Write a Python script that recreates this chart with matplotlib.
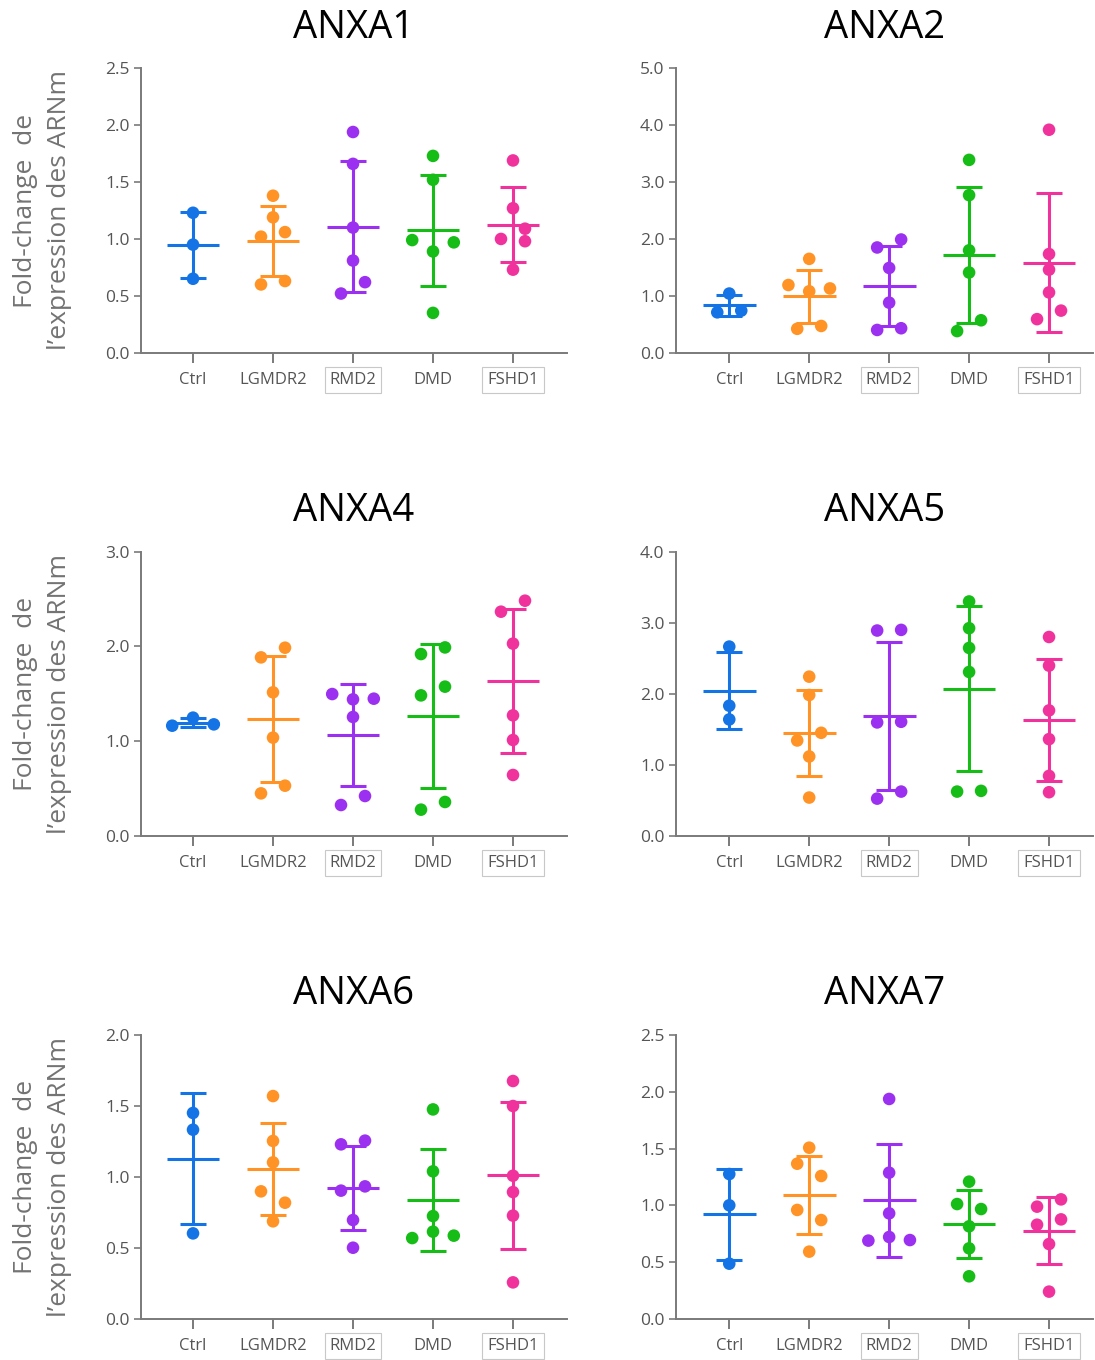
"""ANXA1-7 fold-change scatter panels (mean +/- SD) across myopathy groups."""
import numpy as np
import matplotlib
matplotlib.use("Agg")
import matplotlib.pyplot as plt

plt.rcParams["font.family"] = ["Open Sans", "DejaVu Sans"]

GROUPS = ["Ctrl", "LGMDR2", "RMD2", "DMD", "FSHD1"]
COLORS = ["#1474e6", "#ff9326", "#9b30f0", "#16bd16", "#f0339c"]
BOXED = ["RMD2", "FSHD1"]

# fold-change values, one list per group
ANXA1 = [[1.23, 0.95, 0.65],
         [1.38, 1.19, 1.02, 1.06, 0.60, 0.63],
         [1.94, 1.66, 1.10, 0.81, 0.52, 0.62],
         [1.73, 1.52, 0.89, 0.99, 0.97, 0.35],
         [1.69, 1.27, 1.09, 1.00, 0.98, 0.73]]
ANXA2 = [[1.04, 0.71, 0.74],
         [1.65, 1.08, 1.19, 1.13, 0.42, 0.47],
         [1.85, 1.99, 1.49, 0.88, 0.40, 0.43],
         [3.39, 2.77, 1.80, 1.41, 0.38, 0.57],
         [3.92, 1.735, 1.46, 1.06, 0.59, 0.74]]
ANXA4 = [[1.249, 1.164, 1.178],
         [1.885, 1.987, 1.516, 1.038, 0.45, 0.531],
         [1.442, 1.498, 1.449, 1.256, 0.327, 0.422],
         [1.92, 1.99, 1.484, 1.576, 0.278, 0.359],
         [2.367, 2.483, 2.03, 1.273, 1.013, 0.644]]
ANXA5 = [[2.665, 1.833, 1.640],
         [2.242, 1.984, 1.344, 1.452, 1.119, 0.541],
         [2.891, 2.90, 1.598, 1.607, 0.526, 0.625],
         [3.30, 2.924, 2.646, 2.308, 0.625, 0.635],
         [2.80, 2.397, 1.767, 1.363, 0.846, 0.616]]
ANXA6 = [[1.451, 1.333, 0.603],
         [1.570, 1.254, 1.103, 0.899, 0.819, 0.688],
         [1.230, 1.256, 0.904, 0.934, 0.697, 0.502],
         [1.476, 1.040, 0.725, 0.615, 0.570, 0.587],
         [1.676, 1.50, 1.009, 0.894, 0.728, 0.258]]
ANXA7 = [[1.276, 1.001, 0.487],
         [1.508, 1.367, 1.259, 0.96, 0.871, 0.593],
         [1.937, 1.288, 0.930, 0.722, 0.690, 0.695],
         [1.209, 1.012, 0.968, 0.816, 0.622, 0.376],
         [0.989, 1.053, 0.830, 0.877, 0.660, 0.241]]

GENES = ["ANXA1", "ANXA2", "ANXA4", "ANXA5", "ANXA6", "ANXA7"]
DATA = [ANXA1, ANXA2, ANXA4, ANXA5, ANXA6, ANXA7]
YMAX = [2.5, 5.0, 3.0, 4.0, 2.0, 2.5]
YSTEP = [0.5, 1.0, 1.0, 1.0, 0.5, 0.5]

TICK_GREY = "#555555"
SPINE_GREY = "#7a7a7a"


def swarm_offsets(vals, ymax, thr=0.044, pair_step=0.30, row_step=0.26):
    """Spread points sideways when they sit too close vertically."""
    vals = np.asarray(vals, dtype=float)
    order = np.argsort(vals)
    clusters = [[order[0]]]
    for i in order[1:]:
        if (vals[i] - vals[clusters[-1][-1]]) / ymax < thr:
            clusters[-1].append(i)
        else:
            clusters.append([i])
    off = np.zeros(len(vals))
    for c in clusters:
        n = len(c)
        span = (vals[c[-1]] - vals[c[0]]) / ymax
        if n == 3 and span >= 0.042:
            # outer points clear each other: two columns, middle one alone
            off[c[1]] = -0.5 * pair_step
            off[c[0]] = off[c[2]] = 0.5 * pair_step
            continue
        c = sorted(c)
        if n % 2:
            slots = [0] + [s * k for k in range(1, n // 2 + 1) for s in (-1, 1)]
            step = row_step
        else:
            slots = [s * (k - 0.5) for k in range(1, n // 2 + 1) for s in (-1, 1)]
            step = pair_step
        for idx, sl in zip(c, slots):
            off[idx] = sl * step
    return off


fig = plt.figure(figsize=(10.95, 13.6), dpi=100)

# axes boxes in figure pixels: (left, right) and (top, bottom)
col_x = [(140.7, 567.0), (675.7, 1093.0)]
row_y = [(68.3, 352.7), (551.7, 836.0), (1035.0, 1319.0)]
xlims = [(-0.654, 4.675), (-0.67, 4.55)]

for k, (gene, groups, ymax, ystep) in enumerate(zip(GENES, DATA, YMAX, YSTEP)):
    r, c = divmod(k, 2)
    x0, x1 = col_x[c]
    t, b = row_y[r]
    ax = fig.add_axes([x0 / 1095, 1 - b / 1360, (x1 - x0) / 1095, (b - t) / 1360])

    for i, (vals, col) in enumerate(zip(groups, COLORS)):
        vals = np.asarray(vals)
        m, sd = vals.mean(), vals.std(ddof=1)
        ax.vlines(i, m - sd, m + sd, color=col, lw=2.2, zorder=2)
        ax.hlines([m - sd, m + sd], i - 0.165, i + 0.165, color=col, lw=2.2, zorder=2)
        ax.hlines(m, i - 0.33, i + 0.33, color=col, lw=2.2, zorder=2)
        ax.scatter(i + swarm_offsets(vals, ymax), vals, s=82, color=col,
                   edgecolors="none", zorder=3, clip_on=False)

    ax.set_xlim(*xlims[c])
    ax.set_ylim(0, ymax)
    yt = np.arange(0, ymax + 1e-9, ystep)
    ax.set_yticks(yt)
    ax.set_yticklabels([f"{v:.1f}" for v in yt])
    ax.set_xticks(range(len(GROUPS)))
    ax.set_xticklabels(GROUPS)

    for side in ("top", "right"):
        ax.spines[side].set_visible(False)
    for side in ("left", "bottom"):
        ax.spines[side].set_color(SPINE_GREY)
        ax.spines[side].set_linewidth(1.4)
    ax.tick_params(axis="y", length=5, width=1.2, color=SPINE_GREY,
                   labelsize=12.5, labelcolor=TICK_GREY, pad=3)
    ax.tick_params(axis="x", length=7, width=1.4, color=SPINE_GREY,
                   labelsize=12, labelcolor=TICK_GREY, pad=7)
    for lab in ax.get_xticklabels():
        if lab.get_text() in BOXED:
            lab.set_bbox(dict(boxstyle="square,pad=0.3", facecolor="none",
                              edgecolor="#c8c8c8", linewidth=0.8))

    ax.text(0.5, 1 + 30.6 / (b - t), gene, transform=ax.transAxes,
            ha="center", va="baseline", fontsize=27.5, color="black")

    if c == 0:
        fig.text(42.5 / 1095, 1 - (t + b) / 2 / 1360,
                 "Fold-change  de\nl\u2019expression des ARNm",
                 rotation=90, ha="center", va="center", multialignment="center",
                 fontsize=19, color="#737373", linespacing=1.45)

fig.savefig("out.png", dpi=100)
